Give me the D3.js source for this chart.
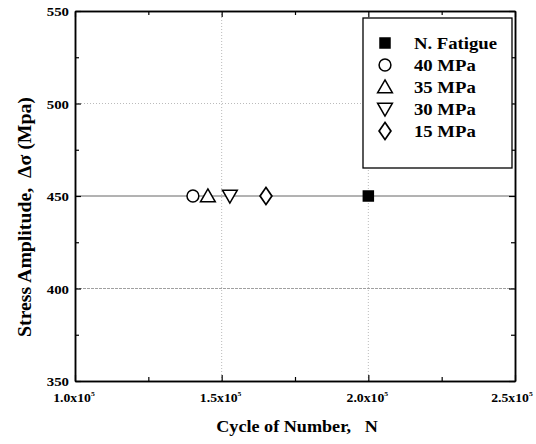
<!DOCTYPE html>
<html><head><meta charset="utf-8">
<script src="https://cdn.jsdelivr.net/npm/d3@7"></script>
<style>body{margin:0;background:#fff}svg{display:block}</style>
</head><body>
<script>
const series = ["N. Fatigue", "40 MPa", "35 MPa", "30 MPa", "15 MPa"];
const cycles = [200000, 140200, 145300, 152800, 165100];
const stress = [450, 450, 450, 450, 450];
const symbols = ["square", "circle", "triangleUp", "triangleDown", "diamond"];
const xTicks = [100000, 150000, 200000, 250000];
const xTickLabels = ["1.0x10", "1.5x10", "2.0x10", "2.5x10"];
const xTickExp = ["5", "5", "5", "5"];
const yTicks = [350, 400, 450, 500, 550];

const W = 536, H = 444;
const m = {l: 75, r: 21, t: 11, b: 63};
const svg = d3.select("body").append("svg").attr("width", W).attr("height", H);
const x = d3.scaleLinear().domain([100000, 250000]).range([m.l, W - m.r]);
const y = d3.scaleLinear().domain([350, 550]).range([H - m.b, m.t]);
const font = "'Liberation Serif', 'Times New Roman', serif";
const SX = 1.1;

function txt(sel, tx, ty, size, anchor, str) {
  return sel.append("text").attr("transform", `translate(${tx},${ty}) scale(${SX},1)`)
    .attr("text-anchor", anchor).attr("font-family", font).attr("font-weight", "bold")
    .attr("font-size", size).attr("xml:space", "preserve").text(str);
}

// grid
const g = svg.append("g");
g.append("line").attr("x1", m.l).attr("x2", W - m.r).attr("y1", y(500)).attr("y2", y(500))
  .attr("stroke", "#aaa").attr("stroke-width", 0.8).attr("stroke-dasharray", "1,2");
g.append("line").attr("x1", m.l).attr("x2", W - m.r).attr("y1", y(400)).attr("y2", y(400))
  .attr("stroke", "#888").attr("stroke-width", 0.8).attr("stroke-dasharray", "3,1");
g.append("line").attr("x1", m.l).attr("x2", W - m.r).attr("y1", y(450)).attr("y2", y(450))
  .attr("stroke", "#666").attr("stroke-width", 1);
[150000, 200000].forEach(v => g.append("line").attr("x1", x(v)).attr("x2", x(v)).attr("y1", m.t).attr("y2", H - m.b)
  .attr("stroke", "#aaa").attr("stroke-width", 0.8).attr("stroke-dasharray", "1,2"));

// axes (ticks inward)
const minorX = [125000, 175000, 225000];
const minorY = [375, 425, 475, 525];
function addAx(ax, tr){ const a = svg.append("g").attr("transform", tr).call(ax); a.select(".domain").attr("stroke","#000").attr("stroke-width",1.5); a.selectAll("line").attr("stroke","#000").attr("stroke-width",1.2); return a;}
addAx(d3.axisBottom(x).tickValues(xTicks).tickSize(-6).tickSizeOuter(0).tickFormat(""), `translate(0,${H - m.b})`);
addAx(d3.axisTop(x).tickValues(xTicks).tickSize(-6).tickSizeOuter(0).tickFormat(""), `translate(0,${m.t})`);
addAx(d3.axisLeft(y).tickValues(yTicks).tickSize(-6).tickSizeOuter(0).tickFormat(""), `translate(${m.l},0)`);
addAx(d3.axisRight(y).tickValues(yTicks).tickSize(-6).tickSizeOuter(0).tickFormat(""), `translate(${W - m.r},0)`);
addAx(d3.axisBottom(x).tickValues(minorX).tickSize(-4).tickSizeOuter(0).tickFormat(""), `translate(0,${H - m.b})`);
addAx(d3.axisTop(x).tickValues(minorX).tickSize(-4).tickSizeOuter(0).tickFormat(""), `translate(0,${m.t})`);
addAx(d3.axisLeft(y).tickValues(minorY).tickSize(-4).tickSizeOuter(0).tickFormat(""), `translate(${m.l},0)`);
addAx(d3.axisRight(y).tickValues(minorY).tickSize(-4).tickSizeOuter(0).tickFormat(""), `translate(${W - m.r},0)`);

// tick labels
yTicks.forEach(v => txt(svg, m.l - 6, y(v) + 5, 13.5, "end", v));
xTicks.forEach((v, i) => {
  const t = txt(svg, Math.min(x(v) - 1, W - 24), H - m.b + 21, 12.5, "middle", "");
  t.append("tspan").text(xTickLabels[i]);
  t.append("tspan").attr("dy", -6).attr("font-size", 7).text(xTickExp[i]);
});

// axis titles
txt(svg, 297, 432, 16.5, "middle", "Cycle of Number,   N");
svg.append("text").attr("transform", `translate(31,217) rotate(-90) scale(${SX},1)`).attr("text-anchor", "middle")
  .attr("font-family", font).attr("font-weight", "bold").attr("font-size", 18)
  .attr("xml:space", "preserve").text("Stress Amplitude,  \u0394\u03c3 (Mpa)");

// symbols
function drawMarker(sel, s, cx, cy) {
  const map = {square: d3.symbolSquare, circle: d3.symbolCircle, triangleUp: d3.symbolTriangle, diamond: d3.symbolDiamond, triangleDown: d3.symbolTriangle};
  const sizes = {square: 100, circle: 110, triangleUp: 95, triangleDown: 95, diamond: 85};
  const rot = s === "triangleDown" ? 180 : 0;
  const dy = s === "triangleUp" ? 1.5 : (s === "triangleDown" ? -1.5 : 0);
  sel.append("path").attr("d", d3.symbol().type(map[s]).size(sizes[s])())
    .attr("transform", `translate(${cx},${cy + dy}) rotate(${rot})${s === "diamond" ? " scale(1.2,1)" : ""}`)
    .attr("fill", s === "square" ? "#000" : "#fff").attr("stroke", "#000").attr("stroke-width", 1.5);
}
series.forEach((s, i) => drawMarker(svg, symbols[i], x(cycles[i]), y(stress[i])));

// legend
const lg = svg.append("g");
lg.append("rect").attr("x", 363).attr("y", 18).attr("width", 149).attr("height", 150)
  .attr("fill", "#fff").attr("stroke", "#000").attr("stroke-width", 1.3);
series.forEach((s, i) => {
  const ly = 43 + i * 22;
  drawMarker(lg, symbols[i], 385, ly);
  txt(lg, 414, ly + 6, 17, "start", s);
});
</script>
</body></html>
